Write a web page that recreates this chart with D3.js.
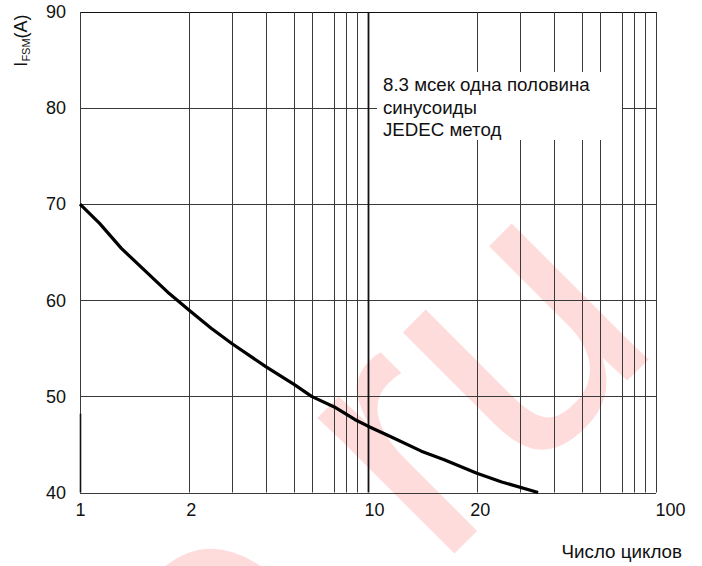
<!DOCTYPE html>
<html><head><meta charset="utf-8">
<script src="https://cdn.jsdelivr.net/npm/d3@7"></script>
<style>html,body{margin:0;padding:0;background:#fff;} svg{display:block;font-family:"Liberation Sans",Arial,sans-serif;}</style>
</head><body>
<svg id="chart" width="702" height="566"></svg>
<script>
// ---- data ----
const cycles  = [1, 1.18, 1.38, 1.82, 2, 2.52, 3, 4, 5.03, 6, 7, 8.8, 10, 12.1, 14.9, 17, 20, 25.8, 35.4];
const current = [70, 68.0, 65.4, 60.7, 59.0, 57.1, 55.5, 53.1, 51.2, 50.0, 48.9, 47.6, 46.9, 45.8, 44.3, 43.4, 42.0, 41.1, 40.0];
const xTickLabels = [1, 2, 10, 20, 100];
const yTickLabels = [40, 50, 60, 70, 80, 90];
const xGridValues = [2, 3, 4, 5, 6, 7, 8, 9, 10, 20, 30, 40, 50, 60, 70, 80, 90, 100];
const noteLines = ["8.3 мсек одна половина", "синусоиды", "JEDEC метод"];
const xTitle = "Число циклов";
const yTitleMain = "I", yTitleSub = "FSM", yTitleUnit = "(A)";
const watermark = "e.ru";

// ---- layout ----
const M = {left: 80, right: 656, top: 12, bottom: 492.5};
// spacing of the drawn (non-ideal) logarithmic grid within one decade, as fraction of decade width
const decadeFrac = [0, 0.378, 0.527, 0.645, 0.744, 0.804, 0.883, 0.922, 0.962, 1];
const labelNudge = {1: 0, 2: 2, 10: 6, 20: 3, 100: 14};
const decW = (M.right - M.left) / 2;
const xDomain = [], xRange = [];
for (let d = 0; d < 2; d++) {
  for (let i = (d === 0 ? 1 : 2); i <= 10; i++) {
    xDomain.push(i * Math.pow(10, d));
    xRange.push(M.left + decW * (d + decadeFrac[i - 1]));
  }
}
const x = d3.scaleLinear().domain(xDomain).range(xRange);
const y = d3.scaleLinear().domain([40, 90]).range([M.bottom, M.top]);

const svg = d3.select("#chart");
const gridColor = "#3a3a3a";

// watermark (underneath)
svg.append("text")
  .attr("transform", "translate(666,342) rotate(-45)")
  .attr("text-anchor", "end")
  .attr("font-size", 365)
  .attr("fill", "#ffdcdc")
  .text(watermark);

// horizontal grid
svg.append("g").selectAll("line").data(yTickLabels).join("line")
  .attr("x1", M.left).attr("x2", M.right)
  .attr("y1", d => Math.round(y(d)) + 0.5).attr("y2", d => Math.round(y(d)) + 0.5)
  .attr("stroke", d => d === 90 ? "#111" : gridColor).attr("stroke-width", 1);

// vertical grid
svg.append("g").selectAll("line").data(xGridValues).join("line")
  .attr("x1", d => Math.round(x(d)) + 0.5).attr("x2", d => Math.round(x(d)) + 0.5)
  .attr("y1", M.top).attr("y2", M.bottom)
  .attr("stroke", d => d === 10 ? "#111" : gridColor)
  .attr("stroke-width", d => d === 10 ? 1.8 : 1);

// left axis line
svg.append("line")
  .attr("x1", M.left + 0.5).attr("x2", M.left + 0.5)
  .attr("y1", M.top).attr("y2", M.bottom)
  .attr("stroke", gridColor).attr("stroke-width", 1);
svg.append("line")
  .attr("x1", M.left + 0.5).attr("x2", M.left + 0.5)
  .attr("y1", y(48.2)).attr("y2", M.bottom)
  .attr("stroke", "#111").attr("stroke-width", 1.6);

// note box
const note = svg.append("g");
note.append("rect").attr("x", 377).attr("y", 72).attr("width", 245).attr("height", 68).attr("fill", "#fff");
note.append("text").attr("font-size", 18.7).attr("fill", "#111")
  .selectAll("tspan").data(noteLines).join("tspan")
  .attr("x", 383).attr("y", (d, i) => 91 + i * 22.5).text(d => d);

// curve
const line = d3.line().x(d => x(d[0])).y(d => y(d[1]));
svg.append("path")
  .datum(cycles.map((c, i) => [c, current[i]]))
  .attr("d", line).attr("fill", "none")
  .attr("stroke", "#000").attr("stroke-width", 3.2)
  .attr("stroke-linejoin", "round");

// axes labels
const yAxis = svg.append("g").attr("transform", `translate(${M.left},0)`)
  .call(d3.axisLeft(y).tickValues(yTickLabels).tickSize(0).tickPadding(14));
yAxis.select(".domain").remove();
yAxis.selectAll("text").attr("font-size", 18).attr("font-family", "Liberation Sans, Arial, sans-serif").attr("fill", "#111");

const xAxis = svg.append("g").attr("transform", `translate(0,${M.bottom})`)
  .call(d3.axisBottom(x).tickValues(xTickLabels).tickFormat(d3.format("d")).tickSize(0).tickPadding(10.5));
xAxis.select(".domain").remove();
xAxis.selectAll("text").attr("font-size", 18).attr("font-family", "Liberation Sans, Arial, sans-serif").attr("fill", "#111")
  .attr("dx", d => labelNudge[d]);

// x title
svg.append("text").attr("x", 682).attr("y", 558).attr("text-anchor", "end")
  .attr("font-size", 18.8).attr("fill", "#111").text(xTitle);

// y title
const yt = svg.append("text").attr("transform", "translate(27,40.5) rotate(-90)")
  .attr("text-anchor", "middle").attr("font-size", 18).attr("fill", "#111");
yt.append("tspan").text(yTitleMain);
yt.append("tspan").attr("font-size", 11).attr("dy", 3).text(yTitleSub);
yt.append("tspan").attr("dy", -3).text(yTitleUnit);
</script>
</body></html>
